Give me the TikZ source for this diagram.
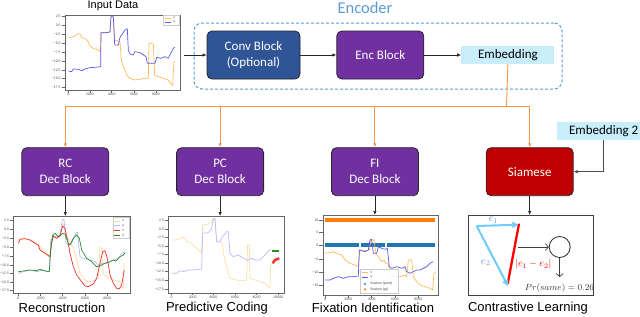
\documentclass[tikz,border=0pt]{standalone}
\usepackage{fontspec}
\setmainfont{Carlito}
\newfontfamily\plotfont{Liberation Sans}
\usepackage{tikz}
\usetikzlibrary{arrows.meta, positioning}
\definecolor{convblue}{RGB}{47, 85, 151}
\definecolor{encpurple}{RGB}{112, 48, 160}
\definecolor{siamred}{RGB}{192, 0, 0}
\definecolor{embcyan}{RGB}{200, 238, 252}
\definecolor{encline}{RGB}{91, 155, 213}
\definecolor{busorange}{RGB}{247, 150, 70}
\definecolor{vecblue}{RGB}{110, 205, 250}
\definecolor{sigx}{RGB}{255, 185, 90}
\definecolor{sigy}{RGB}{90, 90, 235}
\definecolor{sigxlight}{RGB}{255, 220, 165}
\definecolor{sigylight}{RGB}{185, 185, 255}
\definecolor{predred}{RGB}{240, 50, 50}
\definecolor{predgreen}{RGB}{40, 140, 40}
\definecolor{tabblue}{RGB}{31, 119, 180}
\definecolor{taborange}{RGB}{255, 127, 14}

\begin{document}
\begin{tikzpicture}[x=1pt, y=-1pt,
          node distance=36pt,
          blockbox/.style={rectangle, rounded corners=5pt, draw=black!85, line width=0.8pt, text=white, align=center, font=\fontsize{13}{16}\selectfont, minimum width=87pt, minimum height=48pt},
          embbox/.style={rectangle, fill=embcyan, font=\fontsize{13}{16}\selectfont, minimum width=93pt, minimum height=18pt, inner sep=0pt},
          plotframe/.style={rectangle, draw=black!60, line width=0.6pt, anchor=north west, inner sep=0pt},
          caption/.style={font=\plotfont\fontsize{13}{15}\selectfont},
          ticklabel/.style={font=\plotfont\fontsize{3.5}{4}\selectfont, text=black!70, inner sep=0.5pt},
          sig/.style={line width=0.7pt, line join=round},
          arr/.style={-{Latex[length=4pt, width=3.5pt]}, line width=0.7pt, black!85},
          busarr/.style={-{Latex[length=4pt, width=3.5pt]}, line width=0.9pt, busorange},
          vecarr/.style={-{Triangle[length=6pt, width=6pt]}, line width=2pt, vecblue},
          openarr/.style={-{Straight Barb[length=3pt, width=7pt]}, line width=0.7pt, black!75}
        ]
          \useasboundingbox (0,0) rectangle (640,316);

          % encoder
          \node[blockbox, fill=convblue, minimum width=93pt] (conv) at (253.5,55) {Conv Block\\(Optional)};
          \node[blockbox, fill=encpurple, right=of conv] (enc) {Enc Block};
          \node[embbox, right=37pt of enc] (emb) {Embedding};
          \node[rectangle, draw=encline, line width=1pt, dash pattern=on 3pt off 2pt, rounded corners=8pt, minimum width=368pt, minimum height=66pt] (encbox) at (378,56) {};
          \node[text=encline, font=\fontsize{16.5}{19}\selectfont] (enclabel) at (365,8) {Encoder};

          % decoders
          \node[blockbox, fill=encpurple] (rc) at (65.3,171.7) {RC\\Dec Block};
          \node[blockbox, fill=encpurple, right=67pt of rc] (pc) {PC\\Dec Block};
          \node[blockbox, fill=encpurple, right=67pt of pc] (fi) {FI\\Dec Block};
          \node[blockbox, fill=siamred, right=67pt of fi] (siam) {Siamese};
          \node[embbox, anchor=west] (emb2) at (557,131.2) {Embedding 2};

          % plot frames
          \node[plotframe, minimum width=115pt, minimum height=75pt] (inplot) at (65,15) {};
          \node[plotframe, minimum width=116.7pt, minimum height=77.3pt] (rcplot) at (13.3,216) {};
          \node[plotframe, minimum width=115.7pt, minimum height=76.7pt] (pcplot) at (168.3,216) {};
          \node[plotframe, minimum width=115.6pt, minimum height=80pt] (fiplot) at (322.7,215) {};
          \node[plotframe, minimum width=125pt, minimum height=80pt, draw=black!75, line width=0.8pt] (clplot) at (468,215) {};

          % captions
          \node[caption, font=\plotfont\fontsize{11}{13}\selectfont] (inlabel) at (113,6) {Input Data};
          \node[caption] (rccap) at (62,308) {Reconstruction};
          \node[caption] (pccap) at (217,308) {Predictive Coding};
          \node[caption] (ficap) at (373,308) {Fixation Identification};
          \node[caption] (clcap) at (528,308) {Contrastive Learning};

          % connectors
          \coordinate (inout) at (184,55);
          \coordinate (bus) at (506.5,106);
          \draw[arr] (inout) -- (conv);
          \draw[arr] (conv) -- (enc);
          \draw[arr] (enc) -- (emb);
          \draw[busorange, line width=0.9pt] (emb.south) -- (bus);
          \foreach \dst in {rc,pc,fi,siam}
            \draw[busarr] (bus) -| (\dst.north);
          \draw[arr, black!70] (emb2.south) |- (siam.east);
          \foreach \src/\dst in {rc/rcplot, pc/pcplot, fi/fiplot, siam/clplot}
            \draw[arr] (\src.south) -- (\src.south |- \dst.north);

          % input data plot
          \begin{scope}[shift={(40pt,-10pt)}, x=0.3333pt, y=-0.3333pt]
            \draw[sig, sigx] plot coordinates {(85,82) (100,81) (108,75) (112,72) (120,72) (124,82) (135,86) (143,92) (150,108) (158,114) (168,118) (176,120) (181,127) (183,68) (200,68) (210,65) (213,20) (220,20) (224,90) (232,92) (240,96) (244,150) (250,170) (260,195) (270,205) (285,210) (300,208) (315,205) (325,205) (327,100) (340,100) (344,195) (355,200) (370,205) (385,210) (395,225) (398,226) (402,155) (405,155)};
            \draw[sig, sigy] plot coordinates {(85,183) (95,185) (100,177) (115,178) (125,182) (135,177) (150,173) (165,172) (182,170) (183,68) (200,68) (210,66) (213,20) (220,20) (224,105) (235,105) (240,82) (255,60) (262,56) (265,120) (270,132) (280,135) (285,125) (300,128) (318,140) (322,160) (345,160) (350,142) (362,145) (375,140) (385,145) (392,130) (400,115) (405,112)};
            \foreach \yy/\lab in {20/2.5, 47/0.0, 73/−2.5, 100/−5.0, 127/−7.5, 153/−10.0, 180/−12.5, 205/−15.0, 232/−17.5}{
              \draw[black!60, line width=0.4pt] (65,\yy) -- (75,\yy);
              \node[ticklabel, anchor=east] at (64,\yy) {\lab};
            }
            \foreach \xx/\lab in {85/0, 150/2000, 215/4000, 282/6000, 348/8000}{
              \draw[black!60, line width=0.4pt] (\xx,240) -- (\xx,248);
              \node[ticklabel, anchor=north] at (\xx,248) {\lab};
            }
            \draw[black!20, fill=white, line width=0.3pt] (368,14) rectangle (416,46);
            \draw[sig, sigx] (374,24) -- (394,24);
            \draw[sig, sigy] (374,37) -- (394,37);
            \node[ticklabel, anchor=west] at (398,24) {x};
            \node[ticklabel, anchor=west] at (398,37) {y};
          \end{scope}

          % reconstruction plot
          \begin{scope}[shift={(0pt,-210pt)}, x=0.3333pt, y=-0.3333pt]
            \draw[sig, sigxlight] plot coordinates {(55,88) (70,85) (90,90) (110,100) (130,120) (148,140) (152,135) (155,90) (160,75) (170,85) (180,70) (187,45) (192,40) (200,75) (210,100) (220,110) (230,150) (240,190) (255,210) (270,215) (285,210) (295,205) (300,110) (305,115) (310,190) (320,200) (340,210) (360,215) (370,238) (372,160)};
            \draw[sig, sigylight] plot coordinates {(55,190) (70,185) (90,180) (110,185) (130,180) (148,185) (152,90) (165,80) (180,75) (187,28) (192,28) (198,100) (205,105) (215,100) (225,75) (232,65) (240,140) (250,145) (270,150) (285,155) (295,165) (305,160) (320,160) (340,150) (355,145) (365,130) (375,125)};
            \draw[sig, predred] plot coordinates {(55,100) (60,88) (75,86) (90,90) (105,100) (115,105) (120,120) (135,130) (150,140) (155,100) (160,78) (170,85) (180,78) (188,48) (195,55) (200,80) (205,100) (210,130) (220,170) (230,195) (245,215) (255,228) (265,230) (280,222) (290,205) (300,160) (308,125) (315,122) (322,145) (330,195) (340,220) (350,235) (358,237) (365,225) (373,180)};
            \draw[sig, predgreen] plot coordinates {(55,185) (70,183) (90,180) (110,182) (120,178) (135,183) (148,185) (152,120) (158,75) (165,70) (175,80) (182,75) (188,70) (195,72) (205,100) (210,105) (220,85) (230,75) (238,85) (245,120) (260,145) (275,155) (290,170) (300,168) (310,162) (320,158) (330,155) (340,150) (348,153) (360,140) (370,135) (375,128)};
            \foreach \yy/\lab in {32/2.5, 58/0.0, 85/−2.5, 112/−5.0, 138/−7.5, 165/−10.0, 190/−12.5, 217/−15.0, 242/−17.5}{
              \draw[black!60, line width=0.4pt] (30,\yy) -- (40,\yy);
              \node[ticklabel, anchor=east] at (29,\yy) {\lab};
            }
            \foreach \xx/\lab in {55/0, 122/2000, 188/4000, 255/6000, 322/8000}{
              \draw[black!60, line width=0.4pt] (\xx,250) -- (\xx,258);
              \node[ticklabel, anchor=north] at (\xx,258) {\lab};
            }
            \draw[black!20, fill=white, line width=0.3pt] (338,22) rectangle (388,85);
            \draw[sig, sigxlight] (343,33) -- (361,33);
            \draw[sig, sigylight] (343,47) -- (361,47);
            \draw[sig, predred] (343,62) -- (361,62);
            \draw[sig, predgreen] (343,76) -- (361,76);
            \node[ticklabel, anchor=west] at (365,33) {x};
            \node[ticklabel, anchor=west] at (365,47) {y};
            \node[ticklabel, anchor=west] at (365,62) {x'};
            \node[ticklabel, anchor=west] at (365,76) {y'};
          \end{scope}

          % predictive coding plot
          \begin{scope}[shift={(0pt,-200pt)}, x=0.3333pt, y=-0.3333pt]
            \draw[sig, sigxlight] plot coordinates {(515,120) (530,120) (545,113) (555,113) (560,125) (575,130) (585,140) (600,155) (605,160) (608,75) (625,72) (635,62) (640,55) (645,58) (650,125) (660,125) (668,130) (670,160) (680,200) (690,235) (710,240) (730,243) (740,240) (743,135) (748,135) (750,235) (765,240) (780,245) (795,250) (805,260) (810,265) (812,200) (818,190)};
            \draw[sig, sigylight] plot coordinates {(515,220) (530,220) (540,212) (550,215) (565,210) (580,210) (595,208) (605,207) (608,100) (625,98) (635,85) (640,58) (645,55) (650,125) (660,125) (668,110) (680,95) (685,95) (690,160) (700,170) (715,165) (730,175) (740,180) (745,180) (755,175) (765,180) (780,180) (790,170) (800,160) (808,150) (812,148)};
            \draw[predgreen, line width=2.5pt] (815,153) -- (838,153);
            \draw[predred, line width=2.5pt, line join=round] plot coordinates {(818,190) (825,180) (830,178) (838,175)};
            \foreach \yy/\lab in {60/2.5, 87/0.0, 113/−2.5, 138/−5.0, 163/−7.5, 190/−10.0, 215/−12.5, 242/−15.0, 268/−17.5}{
              \draw[black!60, line width=0.4pt] (495,\yy) -- (505,\yy);
              \node[ticklabel, anchor=east] at (494,\yy) {\lab};
            }
            \foreach \xx/\lab in {515/0, 578/2000, 640/4000, 705/6000, 770/8000, 835/10000}{
              \draw[black!60, line width=0.4pt] (\xx,278) -- (\xx,286);
              \node[ticklabel, anchor=north] at (\xx,286) {\lab};
            }
          \end{scope}

          % fixation identification plot
          \begin{scope}[shift={(310pt,-210pt)}, x=0.3333pt, y=-0.3333pt]
            \draw[taborange, line width=3.5pt] (45,30) -- (375,30);
            \draw[tabblue, line width=3.5pt] (45,105) -- (146,105) (152,105) -- (226,105) (232,105) -- (375,105);
            \draw[sig, sigx] plot coordinates {(45,130) (60,128) (70,125) (80,130) (95,135) (105,150) (120,160) (135,165) (145,170) (150,120) (165,122) (178,120) (182,90) (192,90) (198,130) (205,140) (215,155) (222,150) (228,160) (235,162) (240,195) (255,200) (270,200) (285,195) (290,200) (295,150) (305,150) (310,200) (320,215) (330,225) (345,230) (360,235) (368,240) (372,190) (378,185)};
            \draw[sig, sigy] plot coordinates {(45,210) (60,210) (70,205) (85,200) (100,205) (115,200) (130,200) (145,198) (148,120) (165,125) (175,120) (180,90) (185,88) (190,130) (200,130) (205,110) (215,115) (225,118) (232,115) (238,170) (245,175) (260,170) (275,175) (285,170) (290,185) (300,190) (310,185) (320,180) (330,180) (340,175) (350,170) (360,160) (370,155)};
            \foreach \yy/\lab in {30/10, 68/5, 105/0, 148/−5, 186/−10, 226/−15}{
              \draw[black!60, line width=0.4pt] (28,\yy) -- (38,\yy);
              \node[ticklabel, anchor=east] at (27,\yy) {\lab};
            }
            \foreach \xx/\lab in {45/0, 115/2000, 185/4000, 255/6000, 325/8000}{
              \draw[black!60, line width=0.4pt] (\xx,255) -- (\xx,263);
              \node[ticklabel, anchor=north] at (\xx,263) {\lab};
            }
            \draw[black!20, fill=white, fill opacity=0.85, line width=0.3pt] (150,178) rectangle (265,250);
            \draw[sig, sigx] (155,188) -- (175,188);
            \draw[sig, sigy] (155,202) -- (175,202);
            \fill[tabblue] (165,222) circle (1.2pt);
            \fill[taborange] (165,238) circle (1.2pt);
            \node[ticklabel, anchor=west] at (180,188) {x};
            \node[ticklabel, anchor=west] at (180,202) {y};
            \node[ticklabel, anchor=west] at (180,222) {fixation (pred)};
            \node[ticklabel, anchor=west] at (180,238) {fixation (gt)};
          \end{scope}

          % contrastive learning
          \coordinate (va) at (476.7,226);
          \coordinate (vb) at (518.3,224.7);
          \coordinate (vc) at (508,286);
          \draw[red, line width=2.3pt] (519,223.7) -- (507.7,283.7);
          \draw[vecarr] (va) -- (vb);
          \draw[vecarr] (va) -- (vc);
          \node[text=encline, font=\fontsize{10.5}{12}\selectfont] (e1label) at (493.3,220) {$e_1$};
          \node[text=encline, font=\fontsize{10.5}{12}\selectfont] (e2label) at (485.7,262.7) {$e_2$};
          \node[text=red, font=\fontsize{10}{12}\selectfont] (difflabel) at (533.3,264.3) {$|e_1 - e_2|$};
          \node[circle, draw=black!85, line width=0.8pt, minimum size=21pt, inner sep=0pt] (simnode) at (559.7,247) {};
          \coordinate (diffout) at (518.3,247);
          \coordinate (probout) at (559.7,277);
          \draw[openarr] (diffout) -- (simnode);
          \draw[openarr] (simnode) -- (probout);
          \node[text=black!80, font=\fontsize{9.3}{11}\selectfont] (prob) at (559.5,288.7) {$Pr(same) = 0.26$};
        \end{tikzpicture}
\end{document}
